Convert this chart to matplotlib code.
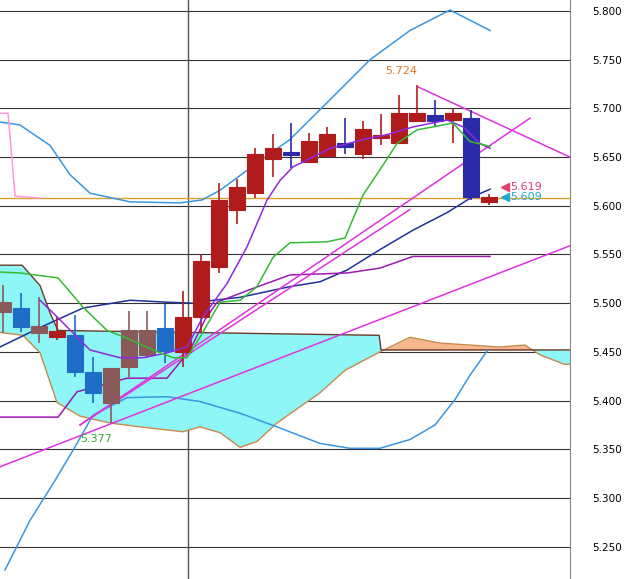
import matplotlib
matplotlib.use("Agg")
import matplotlib.pyplot as plt
import numpy as np

# candles: open, close, high, low
opens  = [5.491,5.495,5.469,5.465,5.467,5.429,5.398,5.434,5.447,5.475,5.450,5.486,5.537,5.596,5.613,5.648,5.655,5.645,5.651,5.664,5.653,5.670,5.664,5.687,5.693,5.688,5.690,5.604]
closes = [5.501,5.476,5.477,5.471,5.429,5.408,5.433,5.472,5.472,5.451,5.486,5.543,5.606,5.619,5.653,5.659,5.652,5.667,5.674,5.660,5.679,5.673,5.695,5.695,5.687,5.695,5.609,5.609]
highs  = [5.519,5.510,5.506,5.486,5.488,5.445,5.433,5.492,5.492,5.499,5.512,5.550,5.623,5.628,5.659,5.674,5.685,5.675,5.681,5.690,5.687,5.694,5.714,5.724,5.709,5.699,5.698,5.612]
lows   = [5.469,5.470,5.459,5.462,5.424,5.398,5.377,5.424,5.444,5.439,5.434,5.470,5.531,5.581,5.608,5.630,5.639,5.644,5.650,5.653,5.648,5.662,5.664,5.687,5.681,5.664,5.606,5.601]
ccolors = ['#8a5a5a','#1e6ec8','#8a5a5a','#b01c1c','#1e6ec8','#1e6ec8','#8a5a5a','#8a5a5a','#8a5a5a','#1e6ec8',
           '#b01c1c','#b01c1c','#b01c1c','#b01c1c','#b01c1c','#b01c1c','#2b2ba8','#b01c1c','#b01c1c','#2b2ba8',
           '#b01c1c','#b01c1c','#b01c1c','#b01c1c','#2b2ba8','#b01c1c','#2b2ba8','#b01c1c']

bbu_t = [-0.17,0.94,2.61,3.72,4.83,7.06,9.83,11.06,12.06,14.11,15.94,18.17,20.39,22.61,24.83,27.06]
bbu_v = [5.686,5.683,5.662,5.632,5.613,5.604,5.603,5.606,5.616,5.644,5.668,5.709,5.750,5.780,5.801,5.780]
bbl_t = [0.11,1.5,2.89,3.89,5.0,6.89,9.11,10.94,13.17,15.22,17.61,19.28,20.94,22.61,24.0,25.11,25.94,26.94]
bbl_v = [5.226,5.277,5.318,5.349,5.385,5.403,5.404,5.399,5.387,5.373,5.356,5.351,5.351,5.360,5.375,5.401,5.426,5.452]
navy_t = [-0.17,2.06,4.44,7.06,9.11,10.56,11.67,13.17,15.94,17.61,19.11,20.94,22.78,24.67,26.06,27.06]
navy_v = [5.455,5.475,5.495,5.503,5.501,5.500,5.503,5.506,5.517,5.522,5.534,5.555,5.575,5.593,5.609,5.617]
vio_t = [2.06,3.0,4.83,6.5,7.78,9.11,10.22,11.11,12.44,13.56,14.67,15.39,16.11,17.22,18.17,20.0,21.33,22.78,24.67,25.56,26.5,27.06]
vio_v = [5.503,5.486,5.452,5.444,5.444,5.449,5.455,5.486,5.520,5.558,5.606,5.626,5.640,5.650,5.659,5.668,5.673,5.681,5.688,5.681,5.664,5.659]
grn_t = [-0.17,0.94,3.06,4.44,5.78,6.89,8.33,9.44,10.22,10.94,12.06,13.17,14.11,15.0,15.94,18.0,19.0,20.0,20.94,21.89,23.0,23.89,25.0,25.94,27.06]
grn_v = [5.532,5.531,5.526,5.496,5.472,5.464,5.452,5.444,5.444,5.465,5.501,5.503,5.517,5.547,5.562,5.563,5.567,5.611,5.637,5.664,5.678,5.681,5.685,5.666,5.661]
pur_t = [-0.17,3.06,4.11,6.89,9.11,10.39,11.22,11.89,13.72,15.94,19.11,20.94,22.78,27.06]
pur_v = [5.383,5.383,5.409,5.423,5.423,5.452,5.483,5.501,5.514,5.529,5.531,5.536,5.548,5.548]
pink_t = [-0.17,0.28,0.67,2.06]
pink_v = [5.695,5.695,5.610,5.608]
spanA_t = [-0.17,1.11,2.06,3.0,4.28,5.94,7.61,10.0,10.94,12.06,13.17,14.11,15.22,17.61,19.0,20.94,22.61,24.28,25.94,27.61,29.0,29.83,31.22,33.17,35.11]
spanA_v = [5.470,5.467,5.449,5.398,5.384,5.377,5.373,5.368,5.373,5.367,5.352,5.358,5.377,5.408,5.431,5.450,5.465,5.459,5.457,5.455,5.457,5.447,5.437,5.440,5.444]
spanB_t = [-0.17,1.06,2.06,2.61,3.06,20.9,21.0,35.1]
spanB_v = [5.539,5.539,5.518,5.490,5.472,5.467,5.452,5.452]
trend_lines = [((-0.17,5.332),(31.5,5.559)), ((4.28,5.375),(29.28,5.690)), ((4.28,5.375),(22.6,5.596)), ((23.06,5.722),(31.5,5.650))]
hline_val = 5.608
yticks = [5.25,5.30,5.35,5.40,5.45,5.50,5.55,5.60,5.65,5.70,5.75,5.80]

fig = plt.figure(figsize=(6.35,5.79), dpi=100)
ax = fig.add_axes([0,0,570/635,1])
ax.set_xlim(-0.167,31.5)
ax.set_ylim(5.2168,5.8113)
for y in yticks:
    ax.axhline(y, color='#333333', lw=0.8, zorder=0)
ax.axvline(10.28, color='#555555', lw=1, zorder=0)

tt = np.linspace(-0.17,35.1,800)
a = np.interp(tt, spanA_t, spanA_v); b = np.interp(tt, spanB_t, spanB_v)
ax.fill_between(tt, a, b, where=b>=a, color='#8ef6f6', lw=0, interpolate=True, zorder=1)
ax.fill_between(tt, a, b, where=a>b, color='#f7b78f', lw=0, interpolate=True, zorder=1)
ax.plot(spanA_t, spanA_v, color='#c8894a', lw=1, zorder=2)
ax.plot(spanB_t, spanB_v, color='#6a3a2a', lw=1, zorder=2)

ax.axhline(hline_val, color='#e0a030', lw=1, zorder=2)
ax.plot(bbu_t, bbu_v, color='#3a96e0', lw=1.1, zorder=3)
ax.plot(bbl_t, bbl_v, color='#3a96e0', lw=1.1, zorder=3)
ax.plot(navy_t, navy_v, color='#20309a', lw=1.1, zorder=3)
ax.plot(pur_t, pur_v, color='#9a1ab0', lw=1.1, zorder=3)
ax.plot(pink_t, pink_v, color='#ff99dd', lw=1.1, zorder=3)
for (x0,y0),(x1,y1) in trend_lines:
    ax.plot([x0,x1],[y0,y1], color='#e033e0', lw=1.1, zorder=3)

for i,(o,c,h,l,col) in enumerate(zip(opens,closes,highs,lows,ccolors)):
    ax.vlines(i, l, h, color=col, lw=1.2, zorder=4)
    ax.bar(i, abs(c-o) or 0.002, bottom=min(o,c), width=0.88, color=col, edgecolor=col, lw=0.8, zorder=5)

ax.plot(vio_t, vio_v, color='#8a2be2', lw=1.1, zorder=6)
ax.plot(grn_t, grn_v, color='#33bb33', lw=1.1, zorder=6)

ax.text(23.0, 5.733, '5.724', color='#e07a20', fontsize=8, ha='right', va='bottom')
ax.text(4.3, 5.366, '5.377', color='#33aa33', fontsize=8, ha='left', va='top')
ax.plot([27.9],[5.619], marker='<', color='#e0406f', ms=6, zorder=7)
ax.text(28.2, 5.619, '5.619', color='#e0406f', fontsize=8, va='center')
ax.plot([27.9],[5.609], marker='<', color='#20a8d0', ms=6, zorder=7)
ax.text(28.2, 5.609, '5.609', color='#20a8d0', fontsize=8, va='center')

ax.yaxis.tick_right()
ax.set_yticks(yticks)
ax.set_yticklabels([f'{v:.3f}' for v in yticks])
ax.tick_params(axis='y', length=0, pad=16, labelsize=7.5)
ax.set_xticks([])
for s in ['top','left','bottom']:
    ax.spines[s].set_visible(False)
ax.spines['right'].set_color('#888888')
fig.savefig('out.png', dpi=100)
